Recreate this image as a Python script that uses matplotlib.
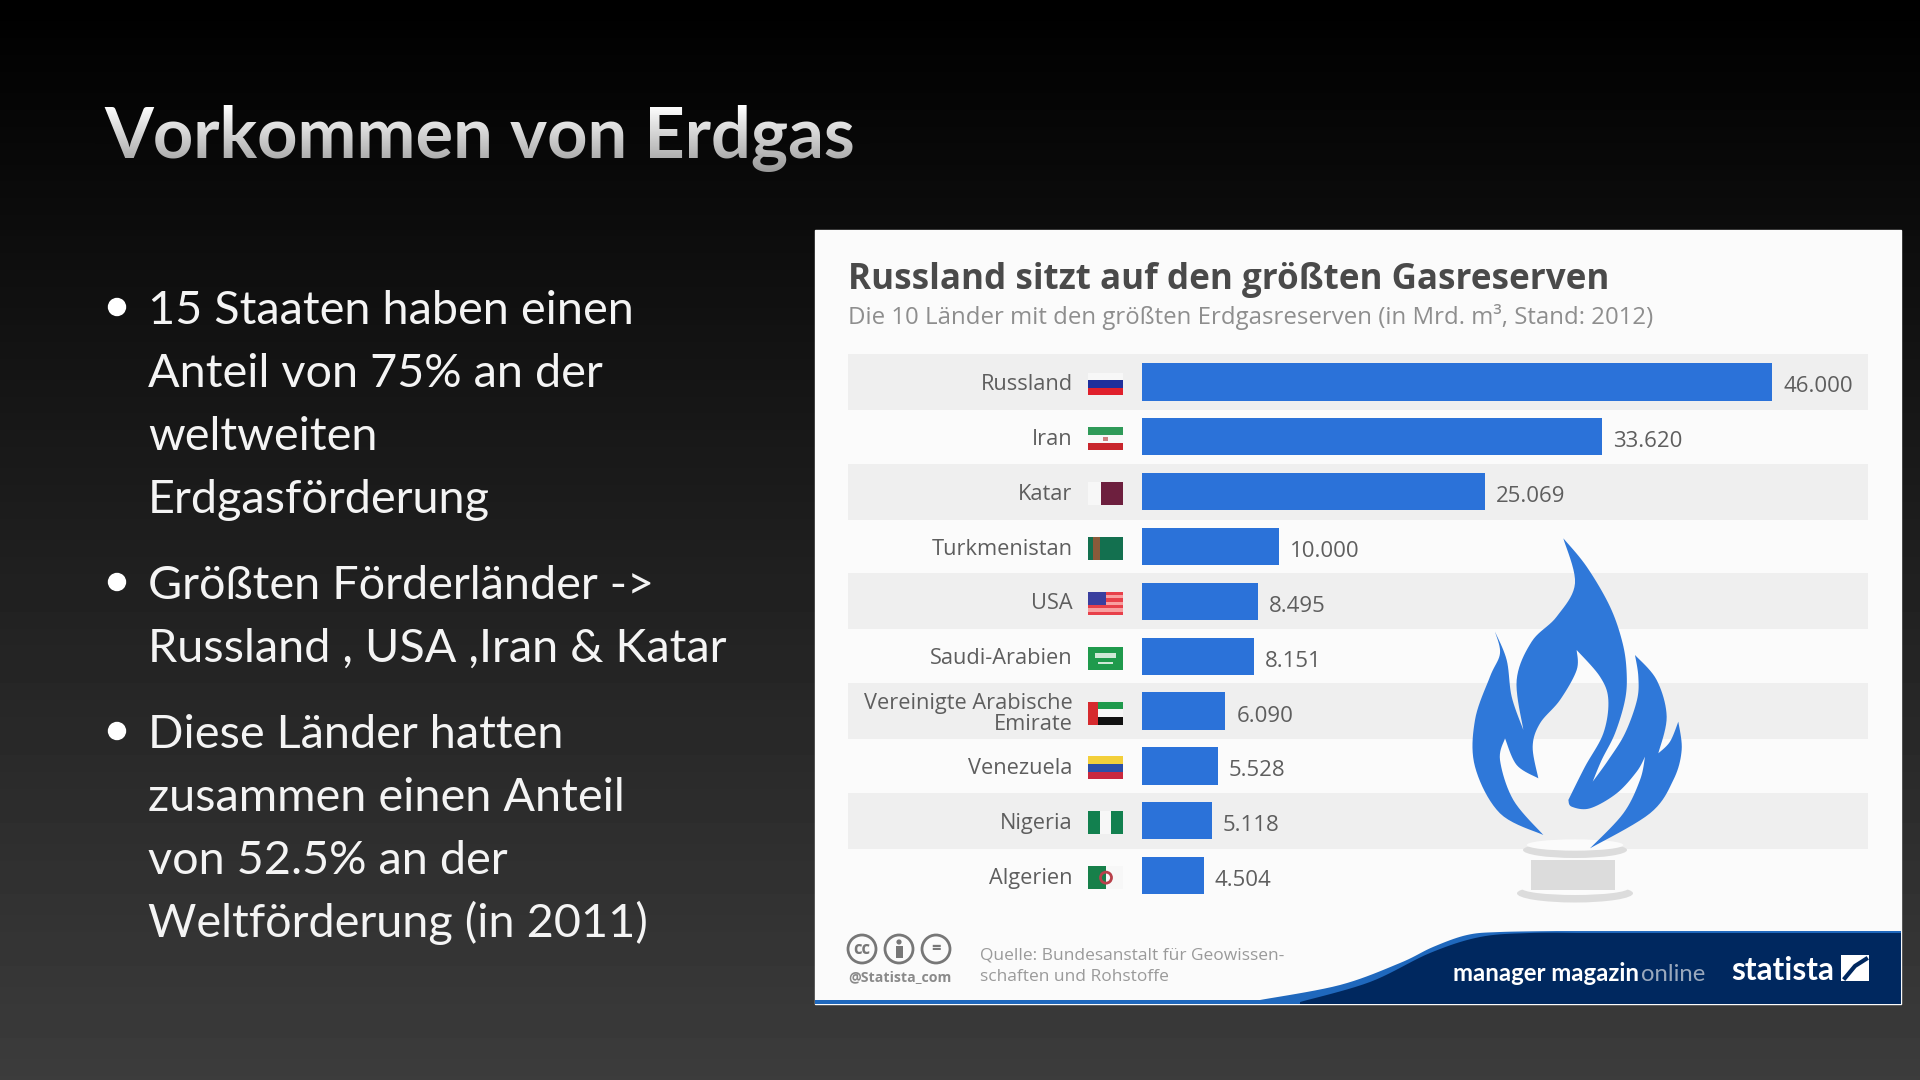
import matplotlib
matplotlib.use('Agg')
import matplotlib.pyplot as plt
import numpy as np
from matplotlib.patches import Rectangle, Circle, Ellipse, Polygon

# chart data
countries = ['Russland', 'Iran', 'Katar', 'Turkmenistan', 'USA', 'Saudi-Arabien',
             'Vereinigte Arabische\nEmirate', 'Venezuela', 'Nigeria', 'Algerien']
reserves = [46000, 33620, 25069, 10000, 8495, 8151, 6090, 5528, 5118, 4504]

slide_title = 'Vorkommen von Erdgas'
bullets = [
    ['15 Staaten haben einen', 'Anteil von 75% an der', 'weltweiten', 'Erdgasförderung'],
    ['Größten Förderländer ->', 'Russland , USA ,Iran & Katar'],
    ['Diese Länder hatten', 'zusammen einen Anteil', 'von 52.5% an der', 'Weltförderung (in 2011)'],
]
bullet_y = [[324, 387, 450, 513], [599, 662], [748, 811, 874, 937]]

BLUE = '#2b72d9'
GREY = '#5e5e5e'
BG_TOP = 0.235  # grey level of the slide at the bottom edge

# row geometry of the picture, in pixels
row0 = 382
pitch = 54.85


def smooth(pts, n=10):
    # catmull-rom through the points, the ends stay sharp
    p = np.array(pts, dtype=float)
    p = np.vstack([p[0], p, p[-1]])
    out = []
    for i in range(1, len(p) - 2):
        for t in np.linspace(0, 1, n, endpoint=False):
            a, b, c, d = p[i - 1], p[i], p[i + 1], p[i + 2]
            out.append(0.5 * (2 * b + (c - a) * t + (2 * a - 5 * b + 4 * c - d) * t ** 2
                              + (3 * b - a - 3 * c + d) * t ** 3))
    return out


fig = plt.figure(figsize=(19.2, 10.8), dpi=100, facecolor='black')
bg = fig.add_axes([0, 0, 1, 1])
bg.set_xlim(0, 1920)
bg.set_ylim(1080, 0)
bg.axis('off')

grad = np.linspace(0, BG_TOP, 256).reshape(-1, 1)
bg.imshow(grad, extent=[0, 1920, 1080, 0], cmap='gray', vmin=0, vmax=1, aspect='auto', zorder=0)

# title with the fade to grey, the veil has the colour of the slide behind it
bg.text(104, 158, slide_title, color='white', fontsize=50.7, family='Lato', weight='bold',
        va='baseline', zorder=2)
fade = np.zeros((64, 2, 4))
fade[:, :, :3] = (np.linspace(105, 178, 64) / 1080 * BG_TOP)[:, None, None]
fade[:, :, 3] = np.linspace(0, 0.45, 64)[:, None]
bg.imshow(fade, extent=[95, 870, 178, 105], aspect='auto', zorder=3)

# bullets
for lines, ys in zip(bullets, bullet_y):
    bg.add_patch(Circle((117, ys[0] - 17), 8.5, color='white', zorder=2))
    for line, y in zip(lines, ys):
        bg.text(148, y, line, color='#f4f4f4', fontsize=33.7, family='Lato', va='baseline', zorder=2)

# statista panel
bg.add_patch(Rectangle((815, 230), 1086, 774, color='#fbfbfb', zorder=1))
for i in range(0, 10, 2):
    bg.add_patch(Rectangle((848, row0 - 28 + pitch * i), 1020, 56, color='#efefef', lw=0, zorder=1.1))

bg.text(848, 289, 'Russland sitzt auf den größten Gasreserven', color='#4a4a4a', fontsize=25.2,
        family='Open Sans', weight='bold', zorder=2)
bg.text(848, 324, 'Die 10 Länder mit den größten Erdgasreserven (in Mrd. m³, Stand: 2012)',
        color='#8e8e8e', fontsize=17.3, family='Open Sans', zorder=2)

# flags, (x, y, w, h, colour) in fractions of the flag
flags = [
    [(0, 0, 1, 1 / 3, '#f7f7f7'), (0, 1 / 3, 1, 1 / 3, '#1f2f9c'), (0, 2 / 3, 1, 1 / 3, '#e0202c')],
    [(0, 0, 1, 1 / 3, '#2f9a58'), (0, 1 / 3, 1, 1 / 3, '#f7f7f7'), (0, 2 / 3, 1, 1 / 3, '#c8252c'),
     (.42, .42, .16, .16, '#d08080')],
    [(0, 0, .38, 1, '#f7f7f7'), (.38, 0, .62, 1, '#6d1f3e')],
    [(0, 0, 1, 1, '#13704f'), (.14, 0, .2, 1, '#8a5a3a')],
    [(0, 0, 1, 1, '#f8a0a0')] + [(0, k * 2 / 7, 1, 1 / 7, '#e8404a') for k in range(4)]
    + [(0, 0, .5, .55, '#3a3f9f')],
    [(0, 0, 1, 1, '#1f9a4c'), (.2, .25, .6, .25, '#cfe8d6'), (.28, .68, .44, .06, '#cfe8d6')],
    [(0, 0, 1, 1 / 3, '#1f9a4c'), (0, 1 / 3, 1, 1 / 3, '#f7f7f7'), (0, 2 / 3, 1, 1 / 3, '#111111'),
     (0, 0, .28, 1, '#d62a2e')],
    [(0, 0, 1, 1 / 3, '#f3cf3a'), (0, 1 / 3, 1, 1 / 3, '#2b4fa8'), (0, 2 / 3, 1, 1 / 3, '#c9283e')],
    [(0, 0, 1 / 3, 1, '#12804f'), (1 / 3, 0, 1 / 3, 1, '#f7f7f7'), (2 / 3, 0, 1 / 3, 1, '#12804f')],
    [(0, 0, .5, 1, '#17804a'), (.5, 0, .5, 1, '#f7f7f7')],
]
for i, flag in enumerate(flags):
    cy = row0 + 2 + pitch * i
    for fx, fy, fw, fh, col in flag:
        bg.add_patch(Rectangle((1088 + 35 * fx, cy - 11.5 + 23 * fy), 35 * fw, 23 * fh,
                               color=col, lw=0, zorder=2))
bg.add_patch(Circle((1106, row0 + 2 + pitch * 9), 5.5, fill=False, ec='#b8404a', lw=2, zorder=2.1))

# flame, drawn on a 3x grid relative to (1400, 520)
flame = (smooth([(490, 55), (560, 140), (630, 260), (668, 370), (680, 460), (675, 540), (645, 640), (605, 720), (578, 785)])
         + smooth([(578, 785), (625, 720), (675, 640), (711, 540), (715, 470), (705, 405)])
         + smooth([(705, 405), (770, 480), (800, 590), (775, 700)])
         + smooth([(775, 700), (810, 665), (835, 605)])
         + smooth([(835, 605), (845, 690), (820, 780), (750, 880), (570, 985)])
         + smooth([(570, 985), (670, 880), (720, 780), (735, 710)])
         + smooth([(735, 710), (710, 755), (650, 820), (570, 865), (515, 860), (505, 840)])
         + smooth([(505, 840), (555, 740), (610, 640), (625, 540), (600, 470), (530, 390)])
         + smooth([(530, 390), (530, 450), (480, 540), (420, 610), (398, 680), (415, 775)])
         + smooth([(415, 775), (350, 735), (315, 655)])
         + smooth([(315, 655), (300, 720), (340, 840), (430, 945)])
         + smooth([(430, 945), (300, 880), (225, 740), (225, 600), (270, 470), (300, 400), (285, 335)])
         + smooth([(285, 335), (320, 420), (335, 530), (370, 630)])
         + smooth([(370, 630), (350, 480), (395, 365), (470, 290), (525, 190), (490, 55)]))
flame = np.array(flame) / 3 + [1400, 520]
bg.add_patch(Polygon(flame, closed=True, color='#2f78d9', lw=0, zorder=2))
# burner
bg.add_patch(Ellipse((1400 + 175, 520 + 1120 / 3), 348 / 3, 55 / 3, color='#dcdcdc', lw=0, zorder=1.8))
bg.add_patch(Ellipse((1400 + 175, 520 + 1105 / 3), 320 / 3, 40 / 3, color='#fbfbfb', lw=0, zorder=1.85))
bg.add_patch(Rectangle((1400 + 392 / 3, 520 + 1020 / 3), 253 / 3, 90 / 3, color='#dcdcdc', lw=0, zorder=1.9))
bg.add_patch(Ellipse((1400 + 175, 520 + 990 / 3), 312 / 3, 48 / 3, color='#dcdcdc', lw=0, zorder=1.6))
bg.add_patch(Ellipse((1400 + 175, 520 + 975 / 3), 290 / 3, 34 / 3, color='#fbfbfb', lw=0, zorder=1.7))

# footer banner
wedge = smooth([(1260, 1000), (1340, 985), (1400, 963), (1433, 947), (1467, 935), (1500, 932), (1560, 931)])
bg.add_patch(Polygon(wedge + [(1901, 931), (1901, 1004), (815, 1004), (815, 1000)], closed=True,
                     color='#1f68bd', lw=0, zorder=2))
wedge2 = smooth([(1300, 1002), (1370, 982), (1430, 953), (1480, 937), (1530, 933), (1580, 933)])
bg.add_patch(Polygon(wedge2 + [(1901, 933), (1901, 1004), (1300, 1004)], closed=True,
                     color='#00285f', lw=0, zorder=2.1))
bg.text(1453, 981, 'manager magazin', color='white', fontsize=17.2, family='Lato', weight='bold', zorder=3)
bg.text(1641, 981, 'online', color='#9aa8bc', fontsize=17.2, family='Lato', zorder=3)
bg.text(1731, 980, 'statista', color='white', fontsize=22.8, family='Lato', weight='bold', zorder=3)
bg.add_patch(Rectangle((1841, 955), 28, 26, color='white', lw=0, zorder=3))
bg.plot([1845, 1855, 1866], [978, 966, 959], color='#00285f', lw=3, zorder=3.1)

# cc icons
for cx, sym in zip([862, 899, 936], ['cc', '', '=']):
    bg.add_patch(Circle((cx, 949), 14, fill=False, ec='#777777', lw=2, zorder=3))
    if sym:
        bg.text(cx, 949, sym, color='#777777', fontsize=12, family='Open Sans', weight='bold',
                ha='center', va='center', zorder=3)
bg.add_patch(Circle((899, 942), 2.6, color='#777777', lw=0, zorder=3))
bg.add_patch(Rectangle((895.5, 946), 7, 12, color='#777777', lw=0, zorder=3))
bg.text(848, 981, '@Statista_com', color='#8a8a8a', fontsize=10.2, family='Open Sans', weight='bold', zorder=3)
bg.text(980, 960, 'Quelle: Bundesanstalt für Geowissen-', color='#9a9a9a', fontsize=12.55,
        family='Open Sans', zorder=3)
bg.text(980, 981, 'schaften und Rohstoffe', color='#9a9a9a', fontsize=12.55, family='Open Sans', zorder=3)

# the bars, on their own axes so the scale comes from the data
top = row0 - pitch / 2
ax = fig.add_axes([1142 / 1920, 1 - (top + pitch * 10) / 1080, 630 / 1920, pitch * 10 / 1080])
ax.patch.set_alpha(0)
ypos = np.arange(len(countries))
bars = ax.barh(ypos, reserves, height=0.68, color=BLUE)
ax.set_xlim(0, 46000)
ax.set_ylim(9.5, -0.5)
ax.set_yticks(ypos)
ax.set_yticklabels(countries, fontsize=15.7, family='Open Sans', color=GREY, linespacing=1.0, multialignment='right')
ax.tick_params(axis='y', length=0, pad=50)
ax.set_xticks([])
for s in ax.spines.values():
    s.set_visible(False)
for y, v in zip(ypos, reserves):
    label = f'{v:,}'.replace(',', '.')
    ax.annotate(label, (v, y), xytext=(11, -5), textcoords='offset pixels', va='center', ha='left',
                fontsize=16, family='Open Sans', color=GREY)

fig.savefig('out.png', dpi=100, facecolor='black')
